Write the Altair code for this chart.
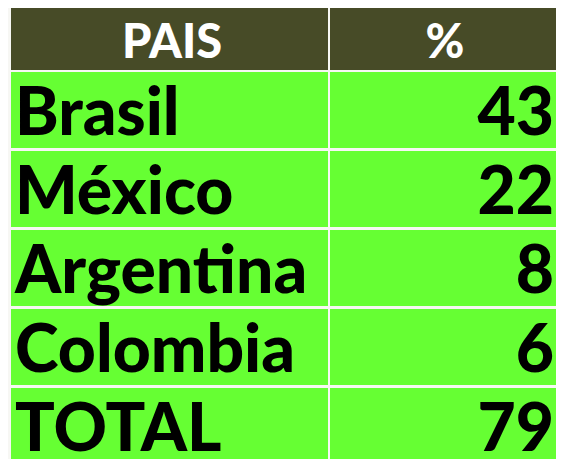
import altair as alt
import pandas as pd

paises = ["Brasil", "México", "Argentina", "Colombia", "TOTAL"]
porcentajes = [43, 22, 8, 6, 79]
encabezados = ["PAIS", "%"]

GREEN = "#66ff33"
OLIVE = "#474b27"
FONT = "Lato"

body_df = pd.DataFrame({"pais": paises, "pct": porcentajes})
head_df = pd.DataFrame({"c1": [encabezados[0]], "c2": [encabezados[1]]})

W = 548
HEAD_H = 62
BODY_H = 379

# column layout (pixels inside the chart)
C1_L, C1_R = 3, 320
C2_L, C2_R = 322, 548

# header
hbase = alt.Chart(head_df)
h_rect1 = hbase.mark_rect(color=OLIVE).encode(
    x=alt.value(C1_L), x2=alt.value(C1_R), y=alt.value(0), y2=alt.value(HEAD_H))
h_rect2 = hbase.mark_rect(color=OLIVE).encode(
    x=alt.value(C2_L), x2=alt.value(C2_R), y=alt.value(0), y2=alt.value(HEAD_H))
h_t1 = hbase.mark_text(align="center", baseline="alphabetic", fontSize=47,
                       font=FONT, fontWeight=900, color="white").encode(
    x=alt.value(164), y=alt.value(50), text="c1:N")
h_t2 = hbase.mark_text(align="center", baseline="alphabetic", fontSize=47,
                       font=FONT, fontWeight=900, color="white").encode(
    x=alt.value(437), y=alt.value(50), text="c2:N")
header = alt.layer(h_rect1, h_rect2, h_t1, h_t2).properties(width=W, height=HEAD_H)

# body
ysc = alt.Scale(domain=paises, range=[0, 392], paddingInner=0.038, paddingOuter=0)
bbase = alt.Chart(body_df).encode(y=alt.Y("pais:N", sort=paises, scale=ysc, axis=None))
b_rect1 = bbase.mark_rect(color=GREEN).encode(x=alt.value(C1_L), x2=alt.value(C1_R))
b_rect2 = bbase.mark_rect(color=GREEN).encode(x=alt.value(C2_L), x2=alt.value(C2_R))
b_t1 = bbase.mark_text(align="left", baseline="alphabetic", dy=25, fontSize=66,
                       font=FONT, fontWeight=900, color="black").encode(
    x=alt.value(7), text="pais:N")
b_t2 = bbase.mark_text(align="right", baseline="alphabetic", dy=25, fontSize=66,
                       font=FONT, fontWeight=900, color="black").encode(
    x=alt.value(546), text="pct:Q")
body = alt.layer(b_rect1, b_rect2, b_t1, b_t2).properties(width=W, height=BODY_H)

chart = alt.vconcat(header, body, spacing=2).properties(
    padding=0, background="#f7f7f4"
).configure_view(stroke=None)

chart.save("out.html", embed_options={"renderer": "svg", "actions": False})
